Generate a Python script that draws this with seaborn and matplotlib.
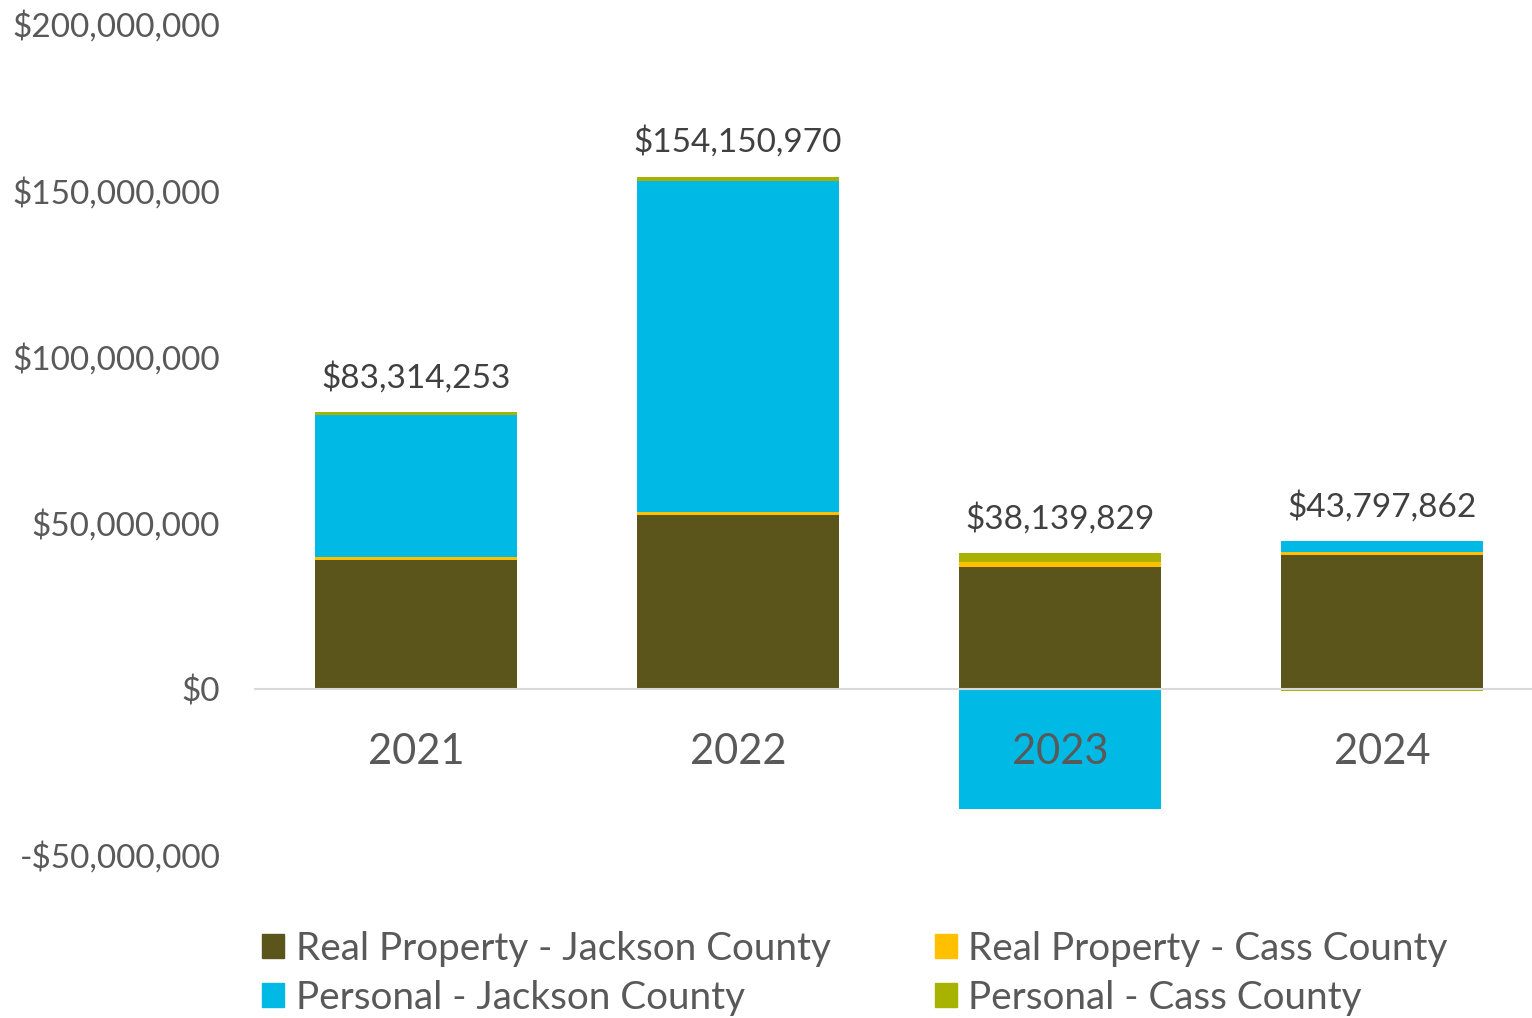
import matplotlib
matplotlib.use("Agg")
import matplotlib.pyplot as plt
import matplotlib.ticker as mticker
from matplotlib.patches import Patch
import numpy as np
import pandas as pd
import seaborn as sns

# ---- data (millions of dollars) ----
years = ["2021", "2022", "2023", "2024"]
real_jackson = [38.6, 52.3, 36.7, 40.3]
real_cass = [1.1, 0.8, 1.4, 1.0]
personal_jackson = [42.8, 99.6, -36.3, 3.1]
personal_cass = [0.8, 1.4, 2.8, -0.6]
total_labels = ["$83,314,253", "$154,150,970", "$38,139,829", "$43,797,862"]

series_names = ["Real Property - Jackson County", "Real Property - Cass County",
                "Personal - Jackson County", "Personal - Cass County"]
series_values = [real_jackson, real_cass, personal_jackson, personal_cass]
colors = ["#5B541B", "#FFC000", "#00B9E4", "#A7B300"]
text_color = "#595959"

sns.set_theme(style="white")
plt.rcParams["font.family"] = ["Lato", "DejaVu Sans"]

fig = plt.figure(figsize=(15.32, 10.18), dpi=100)
W, H = 1532, 1018
ax = fig.add_axes([255 / W, 1 - 855 / H, (1532 - 255) / W, (855 - 24) / H])

pos_base = np.zeros(len(years))
neg_base = np.zeros(len(years))
for name, vals, col in zip(series_names, series_values, colors):
    v = np.array(vals, dtype=float) * 1e6
    bottom = np.where(v >= 0, pos_base, neg_base)
    df = pd.DataFrame({"year": years, "value": v})
    sns.barplot(data=df, x="year", y="value", order=years, color=col,
                bottom=bottom, width=0.63, errorbar=None, ax=ax,
                saturation=1, linewidth=0, label=name)
    pos_base = pos_base + np.where(v >= 0, v, 0)
    neg_base = neg_base + np.where(v < 0, v, 0)

# data labels above positive stack
for i, lab in enumerate(total_labels):
    ax.annotate(lab, xy=(i, pos_base[i]), xytext=(0, 25), textcoords="offset points",
                ha="center", va="center", fontsize=24, color="#404040")

ax.set_ylim(-50e6, 200e6)
ax.set_xlim(-0.5, 3.466)
ax.yaxis.set_major_locator(mticker.MultipleLocator(50e6))


def fmt(v, p):
    v = int(round(v))
    return f"-${abs(v):,}" if v < 0 else f"${v:,}"


ax.yaxis.set_major_formatter(mticker.FuncFormatter(fmt))
ax.set_xlabel("")
ax.set_ylabel("")
for s in ["left", "top", "right"]:
    ax.spines[s].set_visible(False)
ax.spines["bottom"].set_position(("data", 0))
ax.spines["bottom"].set_color("#D9D9D9")
ax.spines["bottom"].set_linewidth(1.5)
ax.set_axisbelow(False)
ax.tick_params(axis="x", length=0, pad=32, labelsize=30, labelcolor=text_color)
ax.tick_params(axis="y", length=0, pad=25, labelsize=24, labelcolor=text_color)
ax.grid(False)
if ax.get_legend() is not None:
    ax.get_legend().remove()

# legend (row-major: Real J, Real Cass / Personal J, Personal Cass)
handles = [Patch(color=colors[0]), Patch(color=colors[2]), Patch(color=colors[1]), Patch(color=colors[3])]
labels = [series_names[0], series_names[2], series_names[1], series_names[3]]
fig.legend(handles, labels, ncol=2, loc="upper left", bbox_to_anchor=(262 / W, 1 - 931 / H),
           frameon=False, fontsize=27.8, labelcolor=text_color, handlelength=0.57,
           handleheight=0.57, handletextpad=0.3, columnspacing=2.7, labelspacing=0.33,
           borderaxespad=0, borderpad=0)

fig.savefig("out.png", dpi=100)
